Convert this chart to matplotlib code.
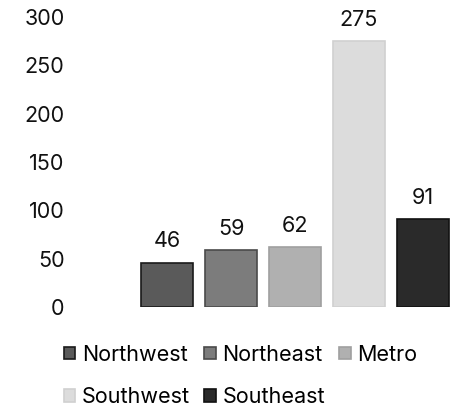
import matplotlib
matplotlib.use("Agg")
import matplotlib.pyplot as plt

categories = ["Northwest", "Northeast", "Metro", "Southwest", "Southeast"]
values = [46, 59, 62, 275, 91]
yticks = [0, 50, 100, 150, 200, 250, 300]
colors = ["#5a5a5a", "#7c7c7c", "#b0b0b0", "#dcdcdc", "#2a2a2a"]
edges = ["#1a1a1a", "#4a4a4a", "#a0a0a0", "#d0d0d0", "#111111"]

plt.rcParams['font.family'] = ['Inter', 'DejaVu Sans']
FS = 15.5

fig = plt.figure(figsize=(4.62, 4.12), dpi=100)
ax = fig.add_axes([70/462, (412-307)/412, 385/462, 297/412])

x = list(range(len(categories)))
bars = ax.bar(x, values, width=0.8, color=colors, edgecolor=edges, linewidth=1.2)
for b, v in zip(bars, values):
    ax.annotate(str(v), (b.get_x() + b.get_width()/2, v), xytext=(0, 8),
                textcoords="offset points", ha="center", va="bottom", fontsize=FS, color="#111111")

ax.set_xlim(-1.516, 4.5)
ax.set_ylim(0, 307.2)
ax.set_yticks(yticks)
ax.set_yticklabels([str(t) for t in yticks], fontsize=FS, color="#111111")
ax.set_xticks([])
ax.tick_params(axis="y", length=0, pad=4)
for s in ax.spines.values():
    s.set_visible(False)

order = [0, 3, 1, 4, 2]
handles = [bars[i] for i in order]
labels = [categories[i] for i in order]
leg = fig.legend(handles, labels, loc="upper left", bbox_to_anchor=(55/462, 1 - 336/412),
                 ncol=3, frameon=False, fontsize=FS, handlelength=0.55, handleheight=0.55,
                 handletextpad=0.3, columnspacing=0.65, labelspacing=1.05, borderaxespad=0)

fig.savefig("out.png", dpi=100)
